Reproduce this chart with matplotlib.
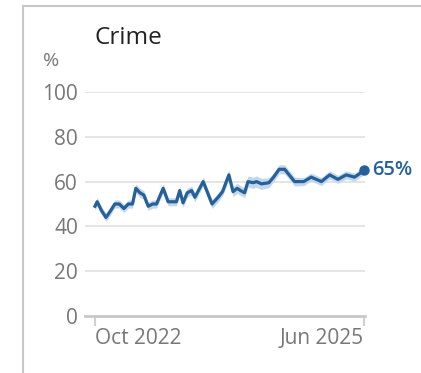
import matplotlib
matplotlib.use("Agg")
import matplotlib.pyplot as plt
import numpy as np
import pandas as pd
from matplotlib.lines import Line2D

plt.rcParams['font.family'] = ['Open Sans', 'DejaVu Sans']

# survey dates and share (%) who name crime
dates = ['2022-10-01', '2022-10-09', '2022-10-25', '2022-11-10', '2022-11-24',
         '2022-12-12', '2022-12-28', '2023-01-14', '2023-01-30', '2023-02-14',
         '2023-02-26', '2023-03-13', '2023-03-27', '2023-04-12', '2023-04-28',
         '2023-05-12', '2023-06-05', '2023-06-23', '2023-07-11', '2023-07-23',
         '2023-08-04', '2023-08-16', '2023-08-31', '2023-09-16', '2023-09-28',
         '2023-10-28', '2023-11-29', '2023-12-21', '2024-01-06', '2024-01-29',
         '2024-02-13', '2024-02-28', '2024-03-11', '2024-03-26', '2024-04-07',
         '2024-04-26', '2024-05-08', '2024-05-26', '2024-06-22', '2024-07-09',
         '2024-07-29', '2024-08-18', '2024-09-23', '2024-10-26', '2024-11-22',
         '2024-12-29', '2025-01-28', '2025-02-27', '2025-03-29', '2025-04-28',
         '2025-05-16', '2025-06-01']
values = [49, 51, 47, 44, 46.5, 50, 50, 48, 50, 50,
          57, 55, 54, 49, 50, 50, 57, 51, 51, 51,
          56, 50.5, 55, 56, 53, 60, 50, 53, 55.5, 63,
          55.5, 57, 56, 55, 60, 59.5, 60, 59, 59.5, 62,
          65.5, 65.5, 60, 60, 62, 60, 63, 61, 63, 62,
          63.5, 65]
# margin of error (percentage points)
moe = [1.8, 1.8, 1.8, 1.8, 1.8, 1.8, 1.8, 1.8, 1.8, 1.8,
       2.0, 2.0, 2.0, 1.8, 1.8, 1.8, 2.0, 1.8, 1.8, 1.8,
       2.0, 2.0, 2.0, 2.0, 2.0, 2.0, 2.0, 2.0, 2.0, 2.2,
       2.2, 2.2, 2.2, 2.2, 2.5, 2.5, 2.5, 2.5, 2.2, 2.0,
       2.0, 2.0, 2.0, 1.8, 1.8, 1.8, 1.8, 1.8, 1.8, 1.8,
       1.8, 1.8]

yticks = [0, 20, 40, 60, 80, 100]
xticks = ['2022-10-01', '2025-06-01']
xlabels = ['Oct 2022', 'Jun 2025']

x = pd.to_datetime(dates)
v = np.array(values)
m = np.array(moe)

line_col = '#26609a'
grey = '#777777'

fig = plt.figure(figsize=(4.21, 3.73), dpi=100)
ax = fig.add_axes([85/421, 1-316/373, 280/421, 224/373])

ax.fill_between(x, v - m, v + m, color='#c3d7ea', lw=0, zorder=2)
ax.plot(x, v, color=line_col, lw=2.3, zorder=3)
ax.plot(x[-1:], v[-1:], 'o', color=line_col, ms=6.5, zorder=4, clip_on=False)
ax.annotate(f'{values[-1]:g}%', (x[-1], v[-1]), xytext=(6, 0), textcoords='offset points',
            ha='left', va='center', color=line_col, fontsize=14.5, fontweight='semibold',
            annotation_clip=False)

ax.set_ylim(0, 100)
ax.set_xlim(x[0] - pd.Timedelta(days=36), x[-1] + pd.Timedelta(days=4))
for t in yticks[1:]:
    ax.axhline(t, color='#e0e0e0', lw=1.2, zorder=1)

for s in ['top', 'right', 'left']:
    ax.spines[s].set_visible(False)
ax.spines['bottom'].set_color('#c8c8c8')
ax.spines['bottom'].set_linewidth(2)

ax.set_yticks(yticks)
ax.set_yticklabels([str(t) for t in yticks])
ax.tick_params(axis='y', length=0, pad=5, labelsize=15, labelcolor=grey)

xt = pd.to_datetime(xticks)
ax.set_xticks(xt)
ax.set_xticklabels(xlabels)
ax.tick_params(axis='x', length=7, width=1.5, color='#d0d0d0', pad=2,
               labelsize=15, labelcolor=grey)
labs = ax.get_xticklabels()
labs[0].set_ha('left')
labs[1].set_ha('right')

fig.text(95/421, 1-44/373, 'Crime', fontsize=17.5, color='#222222', ha='left', va='baseline')
fig.text(43/421, 1-61/373, '%', fontsize=14, color=grey, ha='left', va='center')

# card border
fig.add_artist(Line2D([23/421, 23/421], [0, 1-6/373], transform=fig.transFigure,
                      color='#c8c8c8', lw=1.5))
fig.add_artist(Line2D([23/421, 1], [1-6/373, 1-6/373], transform=fig.transFigure,
                      color='#c8c8c8', lw=1.5))

fig.savefig('out.png', dpi=100)
